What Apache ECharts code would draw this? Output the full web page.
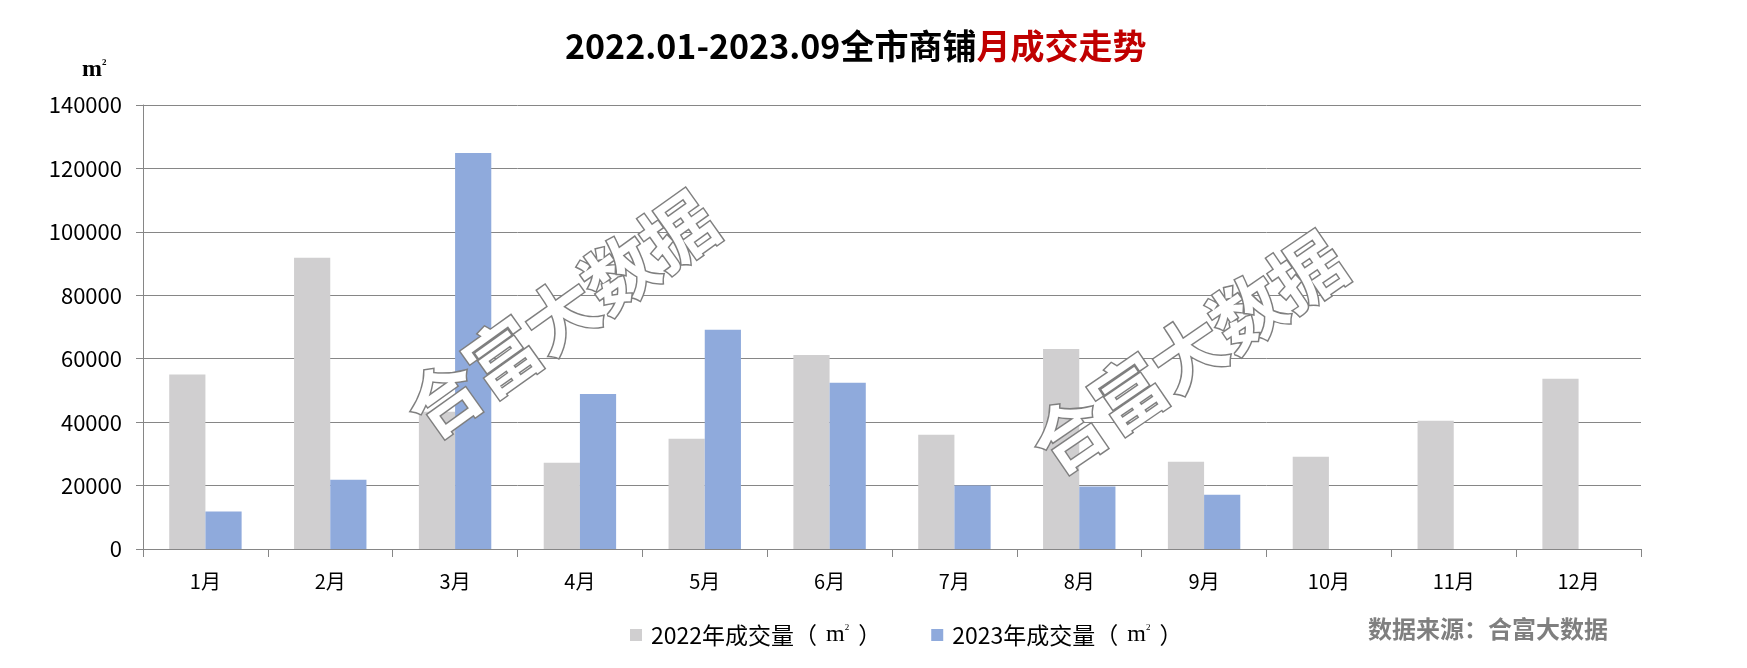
<!DOCTYPE html>
<html>
<head>
<meta charset="utf-8">
<script src="https://cdn.jsdelivr.net/npm/echarts@6/dist/echarts.min.js"></script>
<style>
html,body{margin:0;padding:0;background:#fff;}
#chart{width:1747px;height:668px;}
</style>
</head>
<body>
<div id="chart"></div>
<script>
const categories = ['1月','2月','3月','4月','5月','6月','7月','8月','9月','10月','11月','12月'];
const series2022 = [55000, 91800, 43300, 27200, 34800, 61200, 36000, 63100, 27500, 29100, 40400, 53700];
const series2023 = [11800, 21800, 124900, 48900, 69100, 52400, 20000, 19700, 17100, null, null, null];
const seriesNames = ['2022年成交量', '2023年成交量'];
const yTicks = { min: 0, max: 140000, interval: 20000 };

const FONT = '"Noto Sans CJK SC", "Noto Sans", sans-serif';
const SERIF = '"Liberation Serif", "DejaVu Serif", serif';
const chart = echarts.init(document.getElementById('chart'), null, {renderer: 'canvas'});
const option = {
  backgroundColor: '#ffffff',
  animation: false,
  title: {
    text: '{a|2022.01-2023.09全市商铺}{b|月成交走势}',
    left: 560,
    top: 24,
    textStyle: {
      rich: {
        a: {fontSize: 34, fontWeight: 'bold', color: '#000000', fontFamily: FONT},
        b: {fontSize: 34, fontWeight: 'bold', color: '#c00000', fontFamily: FONT}
      }
    }
  },
  grid: {left: 143, right: 106, top: 105, bottom: 119, containLabel: false},
  legend: {
    left: 625,
    top: 618,
    itemWidth: 12,
    itemHeight: 12,
    itemGap: 50,
    icon: 'rect',
    data: seriesNames,
    formatter: function (name) { return name + '（{m|m}{s|2}）'; },
    textStyle: {
      fontSize: 23, color: '#000', fontFamily: FONT, padding: [0, 0, 0, 4],
      rich: {
        m: {fontSize: 24, fontFamily: SERIF, color: '#000', padding: [0, 0, 0, 9]},
        s: {fontSize: 9, fontFamily: SERIF, color: '#000', verticalAlign: 'top', padding: [0, 9, 10, 0]}
      }
    }
  },
  xAxis: {
    type: 'category',
    data: categories,
    axisLine: {lineStyle: {color: '#868686', width: 1}},
    axisTick: {show: true, length: 8, lineStyle: {color: '#868686'}},
    axisLabel: {fontSize: 20, color: '#000', fontFamily: FONT, margin: 22}
  },
  yAxis: {
    type: 'value',
    min: yTicks.min,
    max: yTicks.max,
    interval: yTicks.interval,
    axisLine: {show: true, lineStyle: {color: '#868686', width: 1}},
    axisTick: {show: true, length: 7, lineStyle: {color: '#868686'}},
    splitLine: {show: true, lineStyle: {color: '#868686', width: 1}},
    axisLabel: {fontSize: 22, color: '#000', fontFamily: FONT, margin: 21, formatter: function (v) { return String(v); }}
  },
  series: [
    {
      name: seriesNames[0], type: 'bar', data: series2022,
      itemStyle: {color: '#d0cfd0'},
      barGap: '0%', barCategoryGap: '42%'
    },
    {
      name: seriesNames[1], type: 'bar', data: series2023,
      itemStyle: {color: '#8faadc'},
      barGap: '0%', barCategoryGap: '42%'
    }
  ],
  graphic: [
    {
      type: 'text', left: 82, top: 58, z: 10,
      style: {
        text: '{m|m}{s|2}',
        rich: {
          m: {font: 'bold 24px ' + SERIF, fill: '#000'},
          s: {font: 'bold 9px ' + SERIF, fill: '#000', verticalAlign: 'top', padding: [0, 0, 12, 0]}
        }
      }
    },
    {
      type: 'text', left: 1368, top: 617, z: 10,
      style: {text: '数据来源：合富大数据', font: 'bold 24px ' + FONT, fill: '#7f7f7f'}
    },
    {
      type: 'text', x: 561, y: 315, rotation: 0.62, z: 100,
      style: {text: '合富大数据', font: 'bold 72px ' + FONT, fill: '#ffffff', stroke: '#7f7f7f', lineWidth: 3, textAlign: 'center', textVerticalAlign: 'middle'}
    },
    {
      type: 'text', x: 1188, y: 353, rotation: 0.6, z: 100,
      style: {text: '合富大数据', font: 'bold 72px ' + FONT, fill: '#ffffff', stroke: '#7f7f7f', lineWidth: 3, textAlign: 'center', textVerticalAlign: 'middle'}
    }
  ]
};
chart.setOption(option);
</script>
</body>
</html>
